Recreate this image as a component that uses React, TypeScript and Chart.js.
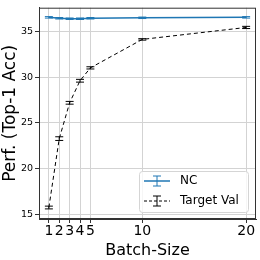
import React, { useEffect, useRef } from "react";
import { Chart, registerables } from "chart.js";

Chart.register(...registerables);

const batchSizes = [1, 2, 3, 4, 5, 10, 20];
const ncValues = [36.5, 36.4, 36.35, 36.35, 36.4, 36.45, 36.5];
const ncErrors = [0.08, 0.08, 0.08, 0.08, 0.08, 0.08, 0.08];
const targetValues = [15.8, 23.3, 27.2, 29.6, 31.0, 34.1, 35.4];
const targetErrors = [0.15, 0.2, 0.15, 0.15, 0.12, 0.08, 0.12];
const xTickValues = [1, 2, 3, 4, 5, 10, 20];
const yTickValues = [15, 20, 25, 30, 35];
const seriesLabels = ["NC", "Target Val"];

const FONT = "'DejaVu Sans', sans-serif";
const NC_COLOR = "#1f77b4";

const errorBarPlugin = {
  id: "errorBars",
  afterDatasetsDraw(chart: any) {
    const ctx = chart.ctx;
    const xs = chart.scales.x;
    const ys = chart.scales.y;
    const sets = [
      { vals: ncValues, errs: ncErrors, color: NC_COLOR },
      { vals: targetValues, errs: targetErrors, color: "#000" },
    ];
    ctx.save();
    for (const s of sets) {
      ctx.strokeStyle = s.color;
      ctx.lineWidth = 1;
      ctx.setLineDash([]);
      batchSizes.forEach((b, i) => {
        const px = xs.getPixelForValue(b);
        const y1 = ys.getPixelForValue(s.vals[i] - s.errs[i]);
        const y2 = ys.getPixelForValue(s.vals[i] + s.errs[i]);
        ctx.beginPath();
        ctx.moveTo(px, y1);
        ctx.lineTo(px, y2);
        ctx.moveTo(px - 4, y1);
        ctx.lineTo(px + 4, y1);
        ctx.moveTo(px - 4, y2);
        ctx.lineTo(px + 4, y2);
        ctx.stroke();
      });
    }
    // frame
    const a = chart.chartArea;
    ctx.strokeStyle = "#333";
    ctx.lineWidth = 1;
    ctx.strokeRect(a.left + 0.5, a.top + 0.5, a.right - a.left - 1, a.bottom - a.top - 1);

    // legend
    const lx = 139, ly = 171, lw = 109, lh = 41;
    ctx.fillStyle = "rgba(255,255,255,0.8)";
    ctx.strokeStyle = "#d5d5d5";
    ctx.beginPath();
    ctx.roundRect(lx + 0.5, ly + 0.5, lw, lh, 3);
    ctx.fill();
    ctx.stroke();
    const rows = [
      { y: 181, color: NC_COLOR, dash: [] as number[], w: 1.5 },
      { y: 201, color: "#000", dash: [3, 2], w: 1 },
    ];
    rows.forEach((r, i) => {
      ctx.strokeStyle = r.color;
      ctx.lineWidth = r.w;
      ctx.setLineDash(r.dash);
      ctx.beginPath();
      ctx.moveTo(144, r.y);
      ctx.lineTo(170, r.y);
      ctx.stroke();
      ctx.setLineDash([]);
      ctx.lineWidth = 1;
      ctx.beginPath();
      ctx.moveTo(157, r.y - 5);
      ctx.lineTo(157, r.y + 5);
      ctx.moveTo(153, r.y - 5);
      ctx.lineTo(161, r.y - 5);
      ctx.moveTo(153, r.y + 5);
      ctx.lineTo(161, r.y + 5);
      ctx.stroke();
      ctx.fillStyle = "#000";
      ctx.font = `12px ${FONT}`;
      ctx.textBaseline = "middle";
      ctx.textAlign = "left";
      ctx.fillText(seriesLabels[i], 180, r.y);
    });
    ctx.restore();
  },
};

export default function App() {
  const ref = useRef<HTMLCanvasElement>(null);
  useEffect(() => {
    const chart = new Chart(ref.current!, {
      type: "line",
      data: {
        datasets: [
          {
            label: seriesLabels[0],
            data: batchSizes.map((b, i) => ({ x: b, y: ncValues[i] })),
            borderColor: NC_COLOR,
            borderWidth: 1.5,
            pointRadius: 0,
            tension: 0,
          },
          {
            label: seriesLabels[1],
            data: batchSizes.map((b, i) => ({ x: b, y: targetValues[i] })),
            borderColor: "#000",
            borderWidth: 1,
            borderDash: [4, 3],
            pointRadius: 0,
            tension: 0,
          },
        ],
      },
      options: {
        animation: false,
        responsive: false,
        devicePixelRatio: 1,
        layout: { padding: { top: 5, right: 4, left: 0, bottom: 0 } },
        plugins: { legend: { display: false }, tooltip: { enabled: false } },
        scales: {
          x: {
            type: "linear",
            min: 0.05,
            max: 20.95,
            afterBuildTicks: (s: any) => {
              s.ticks = xTickValues.map((v) => ({ value: v }));
            },
            afterFit: (s: any) => {
              s.height = 41;
            },
            grid: { color: "#d3d3d3", tickLength: 4, tickColor: "#333" },
            border: { color: "#333" },
            ticks: {
              autoSkip: false,
              maxRotation: 0,
              color: "#000",
              padding: 0,
              font: { family: FONT, size: 14 },
            },
            title: {
              display: true,
              text: "Batch-Size",
              color: "#000",
              padding: { top: -3, bottom: 0 },
              font: { family: FONT, size: 16 },
            },
          },
          y: {
            type: "linear",
            min: 14.55,
            max: 37.55,
            afterBuildTicks: (s: any) => {
              s.ticks = yTickValues.map((v) => ({ value: v }));
            },
            afterFit: (s: any) => {
              s.width = 39;
            },
            grid: { color: "#d3d3d3", tickLength: 4, tickColor: "#333" },
            border: { color: "#333" },
            ticks: {
              color: "#000",
              padding: 2,
              font: { family: FONT, size: 9.5 },
            },
            title: {
              display: true,
              text: "Perf. (Top-1 Acc)",
              color: "#000",
              padding: { top: 0, bottom: 0 },
              font: { family: FONT, size: 17 },
            },
          },
        },
      },
      plugins: [errorBarPlugin],
    } as any);
    return () => chart.destroy();
  }, []);
  return (
    <div style={{ position: "absolute", left: 0, top: 0, width: 260, height: 260, background: "#fff" }}>
      <canvas ref={ref} width={260} height={260} style={{ width: 260, height: 260 }} />
    </div>
  );
}
